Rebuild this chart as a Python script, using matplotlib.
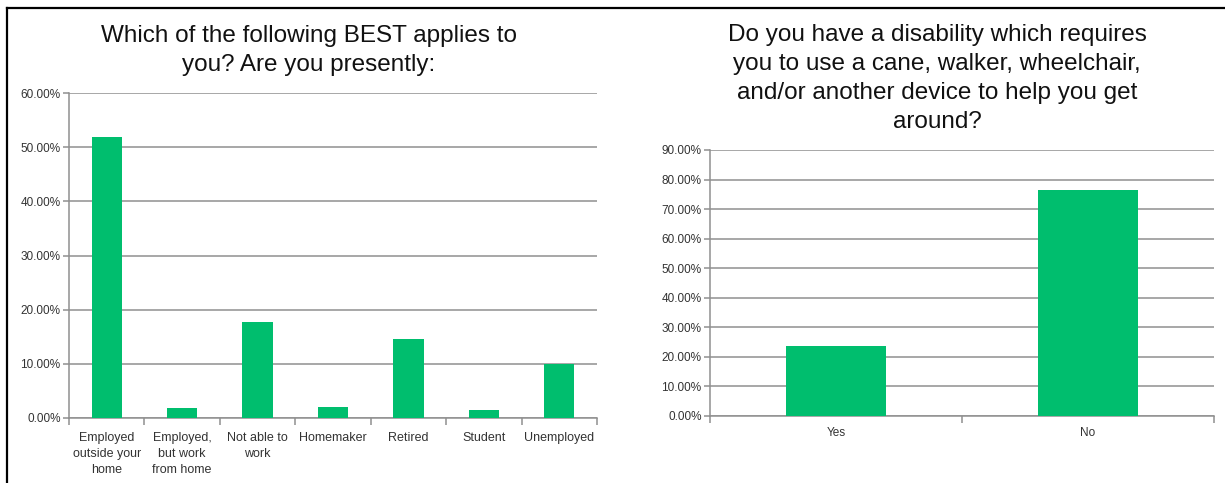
import matplotlib
matplotlib.use("Agg")
import matplotlib.pyplot as plt
from matplotlib.lines import Line2D
from matplotlib.ticker import FuncFormatter, FixedLocator

plt.rcParams['font.family'] = ['Liberation Sans', 'DejaVu Sans']

# Employment status
status_labels = ["Employed\noutside your\nhome", "Employed,\nbut work\nfrom home",
                 "Not able to\nwork", "Homemaker", "Retired", "Student", "Unemployed"]
status_values = [51.8, 1.8, 17.8, 2.1, 14.6, 1.5, 9.9]
status_ticks = [0, 10, 20, 30, 40, 50, 60]

# Mobility device use
device_labels = ["Yes", "No"]
device_values = [23.6, 76.4]
device_ticks = [0, 10, 20, 30, 40, 50, 60, 70, 80, 90]

title_left = "Which of the following BEST applies to\nyou? Are you presently:"
title_right = ("Do you have a disability which requires\nyou to use a cane, walker, wheelchair,\n"
               "and/or another device to help you get\naround?")

GREEN = "#00BE6E"
GRID = "#8f8f8f"
LABEL = "#333333"

W, H = 1225, 483
fig = plt.figure(figsize=(W / 100, H / 100), dpi=100)
fig.patch.set_facecolor("white")


def style_axes(ax, labels, values, ticks, label_size, pad):
    n = len(values)
    x = list(range(n))
    ax.bar(x, values, width=0.4, color=GREEN, zorder=3)
    ax.set_xlim(-0.5, n - 0.5)
    ax.set_ylim(ticks[0], ticks[-1])
    ax.yaxis.set_major_locator(FixedLocator(ticks))
    ax.yaxis.set_major_formatter(FuncFormatter(lambda v, p: f"{v:.2f}%"))
    ax.grid(axis="y", color=GRID, linewidth=1.1, zorder=0)
    ax.set_axisbelow(True)
    for s in ("top", "right"):
        ax.spines[s].set_visible(False)
    for s in ("left", "bottom"):
        ax.spines[s].set_color(GRID)
        ax.spines[s].set_linewidth(1.1)
    ax.set_xticks(x)
    ax.set_xticklabels(labels, fontsize=label_size, color=LABEL, linespacing=1.45)
    ax.tick_params(axis="x", length=0, pad=pad)
    ax.set_xticks([i - 0.5 for i in range(n + 1)], minor=True)
    ax.tick_params(axis="x", which="minor", length=5, color=GRID, width=1.1)
    ax.tick_params(axis="y", length=4, color=GRID, width=1.1, labelsize=8.5,
                   labelcolor=LABEL, pad=2)


ax1 = fig.add_axes([69 / W, 1 - 418 / H, (597 - 69) / W, (418 - 93) / H])
style_axes(ax1, status_labels, status_values, status_ticks, 9, 10)

ax2 = fig.add_axes([710 / W, 1 - 415.7 / H, (1214 - 710) / W, (415.7 - 150) / H])
style_axes(ax2, device_labels, device_values, device_ticks, 8.5, 8)

fig.text(309 / W, 1 - 50.5 / H, title_left, ha="center", va="center",
         fontsize=17.5, linespacing=1.4, color="#111111")
fig.text(937 / W, 1 - 78.5 / H, title_right, ha="center", va="center",
         fontsize=17.5, linespacing=1.4, color="#111111")

# Outer frame along the top and left edges
fig.add_artist(Line2D([7 / W, 7 / W], [0, 1 - 8 / H], transform=fig.transFigure,
                      color="black", linewidth=1.6))
fig.add_artist(Line2D([7 / W, 1], [1 - 8 / H, 1 - 8 / H], transform=fig.transFigure,
                      color="black", linewidth=1.6))

fig.savefig("out.png", dpi=100, facecolor="white")
